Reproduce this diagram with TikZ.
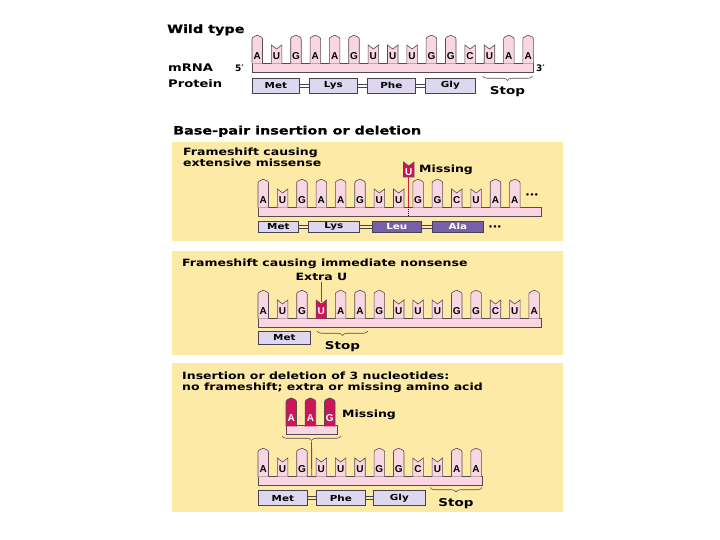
\documentclass[tikz,border=0pt]{standalone}
\usepackage{fontspec}
\setmainfont{DejaVu Sans}
\newfontfamily\hv[FakeStretch=1.25]{DejaVu Sans}
\newfontfamily\hvb[FakeStretch=1.25,FakeBold=0.5]{DejaVu Sans}
\newfontfamily\basefont{Liberation Sans}
\usetikzlibrary{decorations.pathreplacing}
\definecolor{panelc}{RGB}{252,234,166}
\definecolor{pinkf}{RGB}{250,214,226}
\definecolor{mag}{RGB}{205,20,90}
\definecolor{redc}{RGB}{214,30,70}
\definecolor{lav}{RGB}{221,216,240}
\definecolor{purp}{RGB}{120,96,168}
\definecolor{toothline}{RGB}{85,75,80}
\definecolor{boxline}{RGB}{70,65,80}
\def\tsp{19.35}
\newcommand{\purtooth}[3]{%
  \path[fill=#3,draw=toothline,line width=0.6pt] (#1,#2+0.6) -- (#1,#2-24)
    .. controls (#1,#2-26.5) and (#1+3.6,#2-26.5) .. (#1+5.25,#2-27.8)
    .. controls (#1+6.9,#2-26.5) and (#1+10.5,#2-26.5) .. (#1+10.5,#2-24)
    -- (#1+10.5,#2+0.6);}
\newcommand{\pyrtooth}[3]{%
  \path[fill=#3,draw=toothline,line width=0.6pt] (#1,#2+0.6) -- (#1,#2-18)
    -- (#1+5.25,#2-14) -- (#1+10.5,#2-18) -- (#1+10.5,#2+0.6);}
\newcommand{\strand}[5]{%
  \draw[bb] (#2,#3) rectangle (#4,#3+9.5);
  \foreach \L [count=\i from 0] in {#5} {%
    \pgfmathsetmacro\xx{#2+\tsp*\i}%
    \if u\L
      \pyrtooth{\xx}{#3}{mag}%
      \node[base,text=white] (#1\i) at (\xx+5.25,#3-7.3) {U};%
    \else
      \def\tk{y}%
      \if A\L\def\tk{p}\fi
      \if G\L\def\tk{p}\fi
      \if p\tk \purtooth{\xx}{#3}{pinkf}\else\pyrtooth{\xx}{#3}{pinkf}\fi
      \node[base] (#1\i) at (\xx+5.25,#3-7.3) {\L};%
    \fi
  }%
}
\newcommand{\plink}[2]{%
  \draw[plk] ([yshift=1.5pt]#1.east) -- ([yshift=1.5pt]#2.west);
  \draw[plk] ([yshift=-1.5pt]#1.east) -- ([yshift=-1.5pt]#2.west);}
\begin{document}
\begin{tikzpicture}[x=1pt,y=-1pt,
  h1/.style={font=\hvb\bfseries\fontsize{11.5}{13}\selectfont,inner sep=0},
  h2/.style={font=\hv\bfseries\fontsize{10}{11}\selectfont,inner sep=0},
  lab/.style={font=\hv\bfseries\fontsize{10.5}{12}\selectfont,inner sep=0},
  stoplab/.style={font=\hv\bfseries\fontsize{10.8}{12}\selectfont,inner sep=0},
  prime/.style={font=\bfseries\fontsize{9}{10}\selectfont,inner sep=0},
  base/.style={font=\basefont\bfseries\fontsize{10}{10}\selectfont,inner sep=0},
  dots/.style={font=\bfseries\fontsize{7}{8}\selectfont,inner sep=0},
  bb/.style={fill=pinkf,draw=toothline,line width=0.6pt},
  prot/.style={draw=boxline,fill=lav,line width=0.7pt,inner sep=0,
    font=\hv\bfseries\fontsize{8.3}{9}\selectfont,anchor=west},
  protd/.style={prot,fill=purp,text=white},
  plk/.style={draw=boxline,line width=0.6pt},
  brc/.style={decorate,decoration={brace,mirror,amplitude=4.5pt},draw=toothline,line width=0.6pt},
  redl/.style={draw=redc,line width=0.9pt},
  dotl/.style={draw=black,dash pattern=on 1pt off 1pt,line width=0.6pt},
  mtooth/.style={fill=mag,draw=toothline,line width=0.6pt}]
\useasboundingbox (0,0) rectangle (720,540);
\fill[white] (0,0) rectangle (720,540);
% panels
\fill[panelc] (172,142) rectangle (563,241);
\fill[panelc] (172,251) rectangle (563,355);
\fill[panelc] (172,363) rectangle (563,512);
% ---------- wild type
\node[h1,anchor=base west] (wt) at (167,33) {Wild type};
\node[lab,anchor=base west] (mrna) at (168,72) {mRNA};
\node[lab,anchor=base west] (protl) at (168,88) {Protein};
\node[prime,anchor=base east] (w5) at (244,72) {5′};
\node[prime,anchor=base west] (w3) at (536,72) {3′};
\strand{w}{252}{63}{533}{A,U,G,A,A,G,U,U,U,G,G,C,U,A,A}
\node[prot,minimum width=47,minimum height=15] (wMet) at (252,85.5) {Met};
\node[prot,minimum width=48,minimum height=15] (wLys) at (309,85.5) {Lys};
\node[prot,minimum width=48,minimum height=15] (wPhe) at (367,85.5) {Phe};
\node[prot,minimum width=50,minimum height=15] (wGly) at (425,85.5) {Gly};
\plink{wMet}{wLys}\plink{wLys}{wPhe}\plink{wPhe}{wGly}
\draw[brc] (482.5,76) -- (532.5,76);
\node[stoplab,anchor=base] (wstop) at (507.5,95) {Stop};
% ---------- panel 1
\node[h1,anchor=base west] (bp) at (173,134.5) {Base-pair insertion or deletion};
\node[h2,anchor=base west] (p1a) at (183,156) {Frameshift causing};
\node[h2,anchor=base west] (p1b) at (183,166.3) {extensive missense};
\strand{a}{258}{207}{541}{A,U,G,A,A,G,U,U,G,G,C,U,A,A}
\node[dots] (adots) at (532,196) {•••};
\path[mtooth] (403.5,177) -- (403.5,162) -- (408.75,166) -- (414,162) -- (414,177) -- cycle;
\node[base,text=white] (mu) at (408.75,172) {U};
\node[h2,anchor=base west] (miss1) at (419,173) {Missing};
\coordinate (mub) at (408.75,177);
\coordinate (mbt) at (408.75,207);
\coordinate (mbb) at (408.75,216.5);
\draw[redl] (mub) -- (mbt);
\draw[dotl] (mbt) -- (mbb);
\node[prot,minimum width=40,minimum height=11.5] (aMet) at (258,226.7) {Met};
\node[prot,minimum width=51,minimum height=11.5] (aLys) at (308,226.7) {Lys};
\node[protd,minimum width=49,minimum height=11.5] (aLeu) at (372,226.7) {Leu};
\node[protd,minimum width=51,minimum height=11.5] (aAla) at (432,226.7) {Ala};
\plink{aMet}{aLys}\plink{aLys}{aLeu}\plink{aLeu}{aAla}
\node[dots] (adots2) at (495,228) {•••};
% ---------- panel 2
\node[h2,anchor=base west] (p2a) at (182,266.5) {Frameshift causing immediate nonsense};
\node[h2,anchor=base] (extra) at (321.5,280) {Extra U};
\strand{b}{258}{318}{541}{A,U,G,u,A,A,G,U,U,U,G,G,C,U,A}
\coordinate (xtop) at (321.45,302);
\draw[redl] ([yshift=-1.5pt]extra.south) -- (xtop);
\node[prot,minimum width=52,minimum height=13.3] (bMet) at (258,337.7) {Met};
\draw[brc] (317,331) -- (368,331);
\node[stoplab,anchor=base] (bstop) at (342.5,349) {Stop};
% ---------- panel 3
\node[h2,anchor=base west] (p3a) at (182,379.3) {Insertion or deletion of 3 nucleotides:};
\node[h2,anchor=base west] (p3b) at (182,390.7) {no frameshift; extra or missing amino acid};
\draw[bb] (286,425.7) rectangle (337,434.3);
\foreach \L/\xx [count=\i from 0] in {A/286,A/305.2,G/324.5} {
  \purtooth{\xx}{425.7}{mag}
  \node[base,text=white] (m\i) at (\xx+5.25,418.4) {\L};
}
\node[h2,anchor=base west] (miss3) at (342,417) {Missing};
\draw[brc] (282,436) -- (341,436);
\coordinate (btip) at (311.5,441.5);
\coordinate (cbt) at (311.75,476);
\coordinate (cbb) at (311.75,486);
\draw[redl] (btip) -- (cbt);
\draw[dotl] (cbt) -- (cbb);
\strand{c}{258}{476}{482}{A,U,G,U,U,U,G,G,C,U,A,A}
\node[prot,minimum width=49,minimum height=15] (cMet) at (258,498.2) {Met};
\node[prot,minimum width=49,minimum height=15] (cPhe) at (316,498.2) {Phe};
\node[prot,minimum width=52,minimum height=15] (cGly) at (373,498.2) {Gly};
\plink{cMet}{cPhe}\plink{cPhe}{cGly}
\draw[brc] (430,487.5) -- (482,487.5);
\node[stoplab,anchor=base] (cstop) at (456,506) {Stop};
\end{tikzpicture}
\end{document}
